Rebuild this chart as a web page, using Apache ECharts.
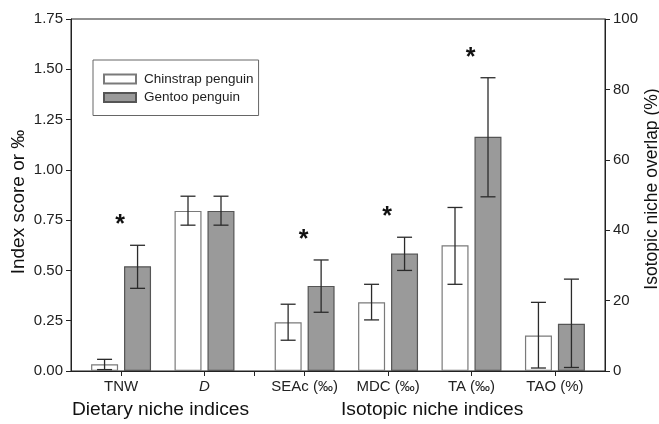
<!DOCTYPE html>
<html>
<head>
<meta charset="utf-8">
<script src="https://cdn.jsdelivr.net/npm/echarts@6/dist/echarts.min.js"></script>
<style>
html, body { margin: 0; padding: 0; background: #fff; }
#chart { width: 659px; height: 424px; }
</style>
</head>
<body>
<div id="chart"></div>
<script>
// niche indices, chinstrap vs gentoo
var categories = ['TNW', 'D', 'SEAc (‰)', 'MDC (‰)', 'TA (‰)', 'TAO (%)'];
var onRightAxis = [false, false, false, false, false, true];
var chinstrap = [0.033, 0.796, 0.242, 0.342, 0.625, 10.1];
var chinLow = [0.007, 0.725, 0.153, 0.254, 0.431, 0.85];
var chinHigh = [0.058, 0.869, 0.332, 0.431, 0.813, 19.5];
var gentoo = [0.521, 0.796, 0.423, 0.584, 1.164, 13.4];
var gentLow = [0.411, 0.725, 0.292, 0.500, 0.866, 1.0];
var gentHigh = [0.625, 0.869, 0.552, 0.665, 1.458, 26.1];
var significant = [true, false, true, true, true, false];
var leftTicks = [0, 0.25, 0.5, 0.75, 1, 1.25, 1.5, 1.75];
var rightTicks = [0, 20, 40, 60, 80, 100];

var FONT = 'Liberation Sans, Arial, sans-serif';

// x axis is laid out on fine slots so the two groups get a wider gap
var SLOTS = 33;
function slotOf(i) {
	return 3 + 5 * i + (i >= 2 ? 1 : 0);
}
var slotLabels = [];
for (var s = 0; s < SLOTS; s++) slotLabels.push('');
var tickSlots = [11];
for (var i = 0; i < categories.length; i++) {
	slotLabels[slotOf(i)] = categories[i];
	tickSlots.push(slotOf(i));
}

function emptySlots() {
	var a = [];
	for (var s = 0; s < SLOTS; s++) a.push('-');
	return a;
}
var chinL = emptySlots(), gentL = emptySlots(), chinR = emptySlots(), gentR = emptySlots();
var errL = [], errR = [];
for (var i = 0; i < categories.length; i++) {
	var sl = slotOf(i);
	var ch = onRightAxis[i] ? chinR : chinL;
	var ge = onRightAxis[i] ? gentR : gentL;
	var er = onRightAxis[i] ? errR : errL;
	ch[sl] = chinstrap[i];
	ge[sl] = gentoo[i];
	er.push([sl, chinLow[i], chinHigh[i], -1, 0]);
	er.push([sl, gentLow[i], gentHigh[i], 1, significant[i] ? 1 : 0]);
}

function renderErr(params, api) {
	var slot = api.value(0);
	var top = api.coord([slot, api.value(2)]);
	var bot = api.coord([slot, api.value(1)]);
	var x = top[0] + api.value(3) * 16.5;
	var st = { stroke: '#2b2b2b', lineWidth: 1.3 };
	var kids = [
		{ type: 'line', shape: { x1: x, y1: top[1], x2: x, y2: bot[1] }, style: st },
		{ type: 'line', shape: { x1: x - 7.5, y1: top[1], x2: x + 7.5, y2: top[1] }, style: st },
		{ type: 'line', shape: { x1: x - 7.5, y1: bot[1], x2: x + 7.5, y2: bot[1] }, style: st }
	];
	if (api.value(4)) {
		kids.push({
			type: 'text',
			style: {
				text: '*', x: top[0] - 1, y: top[1] - 20,
				align: 'center', verticalAlign: 'middle',
				font: 'bold 25px ' + FONT, fill: '#111'
			}
		});
	}
	return { type: 'group', children: kids };
}

var chinStyle = { color: '#ffffff', borderColor: '#7a7a7a', borderWidth: 1.2 };
var gentStyle = { color: '#9a9a9a', borderColor: '#555555', borderWidth: 1.2 };

var myChart = echarts.init(document.getElementById('chart'));
var option = {
	animation: false,
	backgroundColor: '#ffffff',
	textStyle: { fontFamily: FONT },
	grid: {
		left: 71, right: 54, top: 19, bottom: 53,
		outerBoundsMode: 'none',
		containLabel: false,
		show: true, borderColor: '#222', borderWidth: 1
	},
	legend: {
		orient: 'vertical',
		left: 93, top: 60,
		padding: [11, 5, 10, 10],
		borderColor: '#666', borderWidth: 1,
		itemWidth: 32, itemHeight: 9, itemGap: 2.5,
		icon: 'rect',
		textStyle: { fontSize: 13.5, color: '#222', lineHeight: 16, padding: [0, 0, 0, 3] },
		data: ['Chinstrap penguin', 'Gentoo penguin']
	},
	xAxis: [{
		type: 'category',
		data: slotLabels,
		boundaryGap: false,
		axisLine: { lineStyle: { color: '#222' } },
		axisTick: {
			length: 5, lineStyle: { color: '#222' },
			interval: function (idx) { return tickSlots.indexOf(idx) >= 0; }
		},
		axisLabel: {
			interval: function (idx) { return slotLabels[idx] !== ''; },
			fontSize: 15, color: '#222', margin: 8,
			formatter: function (v) { return v === 'D' ? '{it|D}' : v; },
			rich: { it: { fontStyle: 'italic', fontSize: 15, color: '#222' } }
		},
		splitLine: { show: false }
	}, {
		type: 'category',
		data: slotLabels,
		boundaryGap: false,
		show: false
	}],
	yAxis: [{
		type: 'value',
		min: leftTicks[0], max: leftTicks[leftTicks.length - 1], interval: 0.25,
		name: 'Index score or ‰',
		nameLocation: 'middle', nameGap: 43, nameMoveOverlap: false,
		nameTextStyle: { fontSize: 19, color: '#111', padding: [0, 14, 0, 0] },
		axisLine: { show: true, lineStyle: { color: '#222' } },
		axisTick: { show: true, length: 5, lineStyle: { color: '#222' } },
		axisLabel: {
			fontSize: 15, color: '#222', margin: 8,
			formatter: function (v) { return v.toFixed(2); }
		},
		splitLine: { show: false }
	}, {
		type: 'value',
		position: 'right',
		min: rightTicks[0], max: rightTicks[rightTicks.length - 1], interval: 20,
		name: 'Isotopic niche overlap (%)',
		nameLocation: 'middle', nameGap: 38, nameRotate: 90, nameMoveOverlap: false,
		nameTextStyle: { fontSize: 17.5, color: '#111', padding: [0, 0, 0, 12] },
		axisLine: { show: true, lineStyle: { color: '#222' } },
		axisTick: { show: true, length: 5, lineStyle: { color: '#222' } },
		axisLabel: { fontSize: 15, color: '#222', margin: 8 },
		splitLine: { show: false }
	}],
	graphic: [{
		type: 'text', left: 72, top: 400,
		style: { text: 'Dietary niche indices', font: '19.2px ' + FONT, fill: '#111' }
	}, {
		type: 'text', left: 341, top: 400,
		style: { text: 'Isotopic niche indices', font: '19.2px ' + FONT, fill: '#111' }
	}],
	series: [{
		name: 'Chinstrap penguin', type: 'bar',
		xAxisIndex: 0, yAxisIndex: 0,
		barWidth: 27, barGap: '22%',
		itemStyle: chinStyle, data: chinL
	}, {
		name: 'Gentoo penguin', type: 'bar',
		xAxisIndex: 0, yAxisIndex: 0,
		barWidth: 27, barGap: '22%',
		itemStyle: gentStyle, data: gentL
	}, {
		name: 'Chinstrap penguin', type: 'bar',
		xAxisIndex: 1, yAxisIndex: 1,
		barWidth: 27, barGap: '22%',
		itemStyle: chinStyle, data: chinR
	}, {
		name: 'Gentoo penguin', type: 'bar',
		xAxisIndex: 1, yAxisIndex: 1,
		barWidth: 27, barGap: '22%',
		itemStyle: gentStyle, data: gentR
	}, {
		type: 'custom', xAxisIndex: 0, yAxisIndex: 0,
		renderItem: renderErr, data: errL, z: 5, clip: false
	}, {
		type: 'custom', xAxisIndex: 1, yAxisIndex: 1,
		renderItem: renderErr, data: errR, z: 5, clip: false
	}]
};
myChart.setOption(option);
</script>
</body>
</html>
